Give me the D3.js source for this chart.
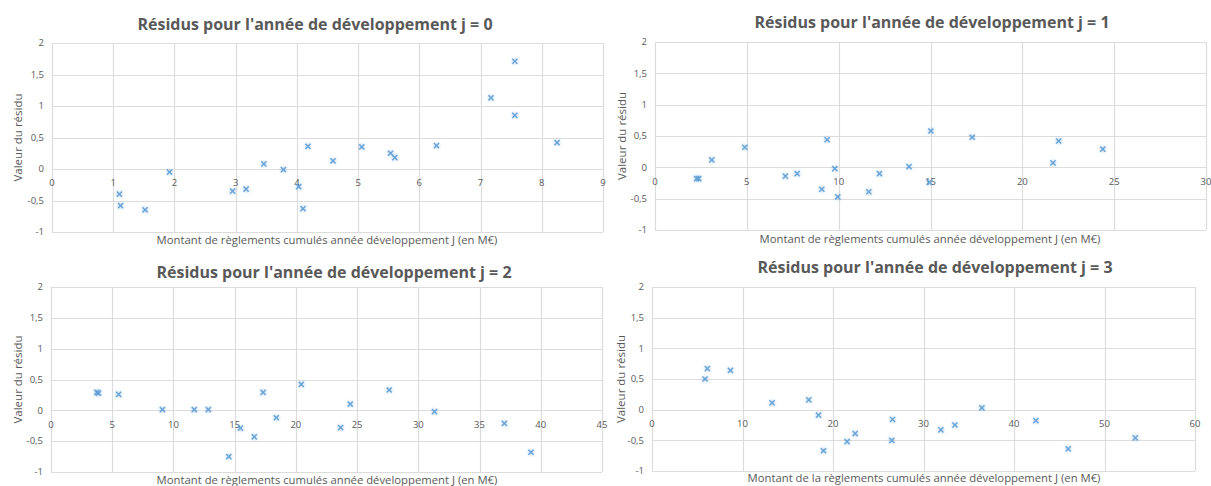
<!DOCTYPE html>
<html>
<head>
<meta charset="utf-8">
<script src="https://cdn.jsdelivr.net/npm/d3@7"></script>
<style>
  body { margin: 0; background: #fff; }
  svg text { font-family: "Open Sans", sans-serif; fill: #595959; }
</style>
</head>
<body>
<svg id="chart" width="1211" height="486"></svg>
<script>
// residuals per development year j (x = cumulated payments in M€, y = residual)
const j0X = [1.10, 1.12, 1.52, 1.92, 2.95, 3.17, 3.46, 3.78, 4.03, 4.10, 4.18, 4.59, 5.06, 5.53, 5.60, 6.28, 7.17, 7.56, 7.56, 8.25];
const j0Y = [-0.40, -0.58, -0.65, -0.05, -0.35, -0.32, 0.08, -0.01, -0.28, -0.63, 0.36, 0.13, 0.35, 0.25, 0.18, 0.37, 1.13, 1.71, 0.85, 0.42];

const j1X = [2.27, 2.38, 3.09, 4.89, 7.10, 7.74, 9.08, 9.37, 9.79, 9.95, 11.64, 12.22, 13.83, 14.94, 15.02, 17.27, 21.67, 21.98, 24.38];
const j1Y = [-0.18, -0.18, 0.12, 0.32, -0.14, -0.10, -0.35, 0.44, -0.02, -0.47, -0.39, -0.10, 0.01, -0.24, 0.58, 0.48, 0.07, 0.42, 0.29];

const j2X = [3.75, 3.88, 5.52, 9.10, 11.70, 12.85, 14.52, 15.47, 16.60, 17.32, 18.40, 20.44, 23.65, 24.44, 27.62, 31.32, 37.03, 39.20];
const j2Y = [0.29, 0.28, 0.26, 0.01, 0.01, 0.01, -0.75, -0.29, -0.43, 0.29, -0.12, 0.42, -0.28, 0.10, 0.33, -0.02, -0.21, -0.68];

const j3X = [5.86, 6.12, 8.67, 13.27, 17.33, 18.40, 18.95, 21.56, 22.45, 26.58, 26.50, 31.92, 33.47, 36.45, 42.42, 45.99, 53.40];
const j3Y = [0.50, 0.67, 0.64, 0.11, 0.16, -0.09, -0.67, -0.52, -0.39, -0.16, -0.50, -0.33, -0.25, 0.03, -0.18, -0.64, -0.46];

const titles = [
  "Résidus pour l'année de développement j = 0",
  "Résidus pour l'année de développement j = 1",
  "Résidus pour l'année de développement j = 2",
  "Résidus pour l'année de développement j = 3"
];
const xLabels = [
  "Montant de règlements cumulés année développement J (en M€)",
  "Montant de règlements cumulés année développement J (en M€)",
  "Montant de règlements cumulés année développement J (en M€)",
  "Montant de la règlements cumulés année développement J (en M€)"
];
const yLabel = "Valeur du résidu";
const xMaxes = [9, 30, 45, 60];
const xSteps = [1, 5, 5, 10];
const yTicks = [-1, -0.5, 0, 0.5, 1, 1.5, 2];

// layout of each panel (plot area + text anchors)
const layout = [
  { x0: 52, x1: 603, y0: 43, y1: 232, tx: 315, ty: 30, lx: 327, ly: 244, yx: 18 },
  { x0: 655, x1: 1206, y0: 42, y1: 230, tx: 932, ty: 28, lx: 930, ly: 243, yx: 622 },
  { x0: 51, x1: 602, y0: 287, y1: 472, tx: 334, ty: 278, lx: 327, ly: 484, yx: 18 },
  { x0: 652, x1: 1195, y0: 287, y1: 471, tx: 935, ty: 273, lx: 924, ly: 482, yx: 621 }
];

const series = [[j0X, j0Y], [j1X, j1Y], [j2X, j2Y], [j3X, j3Y]];

const fr = d3.formatLocale({ decimal: ",", thousands: " ", grouping: [3], currency: ["", " €"], minus: "-" });
const fmt = fr.format("~g");

const svg = d3.select("#chart");

// soft shadow like Excel's default marker effect
const defs = svg.append("defs");
defs.append("filter").attr("id", "soft")
  .attr("x", "-50%").attr("y", "-50%").attr("width", "200%").attr("height", "200%")
  .append("feGaussianBlur").attr("stdDeviation", 0.9);

const cross = "M-2.6,-2.6L2.6,2.6M-2.6,2.6L2.6,-2.6";

series.forEach(([xs, ys], i) => {
  const L = layout[i];
  const x = d3.scaleLinear().domain([0, xMaxes[i]]).range([L.x0, L.x1]);
  const y = d3.scaleLinear().domain([-1, 2]).range([L.y1, L.y0]);
  const xTicks = d3.range(0, xMaxes[i] + xSteps[i] / 2, xSteps[i]);
  const g = svg.append("g");

  // gridlines
  g.append("g").selectAll("line").data(yTicks).join("line")
    .attr("x1", L.x0).attr("x2", L.x1)
    .attr("y1", d => Math.round(y(d)) + 0.5).attr("y2", d => Math.round(y(d)) + 0.5)
    .attr("stroke", "#dcdcdc").attr("stroke-width", 1.2);
  g.append("g").selectAll("line").data(xTicks).join("line")
    .attr("y1", L.y0).attr("y2", L.y1)
    .attr("x1", d => Math.round(x(d)) + 0.5).attr("x2", d => Math.round(x(d)) + 0.5)
    .attr("stroke", "#dcdcdc").attr("stroke-width", 1.2);

  // y tick labels
  g.append("g").selectAll("text").data(yTicks).join("text")
    .attr("x", L.x0 - 8).attr("y", d => y(d))
    .attr("dy", "0.35em").attr("text-anchor", "end")
    .style("font-size", "9.5px")
    .text(d => fmt(d));

  // x tick labels, sitting under the zero line
  g.append("g").selectAll("text").data(xTicks).join("text")
    .attr("x", d => x(d)).attr("y", y(0) + 14)
    .attr("dy", "0.35em").attr("text-anchor", "middle")
    .style("font-size", "9.5px")
    .text(d => fmt(d));

  // markers
  const pts = xs.map((v, k) => [v, ys[k]]);
  const m = g.append("g").selectAll("g").data(pts).join("g")
    .attr("transform", d => `translate(${x(d[0])},${y(d[1])})`);
  m.append("path").attr("d", cross)
    .attr("stroke", "#5b9bd5").attr("stroke-width", 3)
    .attr("stroke-opacity", 0.28).attr("fill", "none")
    .attr("filter", "url(#soft)");
  m.append("path").attr("d", cross)
    .attr("stroke", "#5b9bd5").attr("stroke-width", 1.4)
    .attr("stroke-opacity", 0.9)
    .attr("fill", "none");

  // titles
  g.append("text").attr("x", L.tx).attr("y", L.ty)
    .attr("text-anchor", "middle")
    .style("font-size", "16px").style("font-weight", "bold")
    .text(titles[i]);

  g.append("text").attr("x", L.lx).attr("y", L.ly)
    .attr("text-anchor", "middle")
    .style("font-size", "11.3px")
    .text(xLabels[i]);

  g.append("text")
    .attr("transform", `translate(${L.yx},${(L.y0 + L.y1) / 2}) rotate(-90)`)
    .attr("dy", "0.35em").attr("text-anchor", "middle")
    .style("font-size", "11.5px")
    .text(yLabel);
});
</script>
</body>
</html>
